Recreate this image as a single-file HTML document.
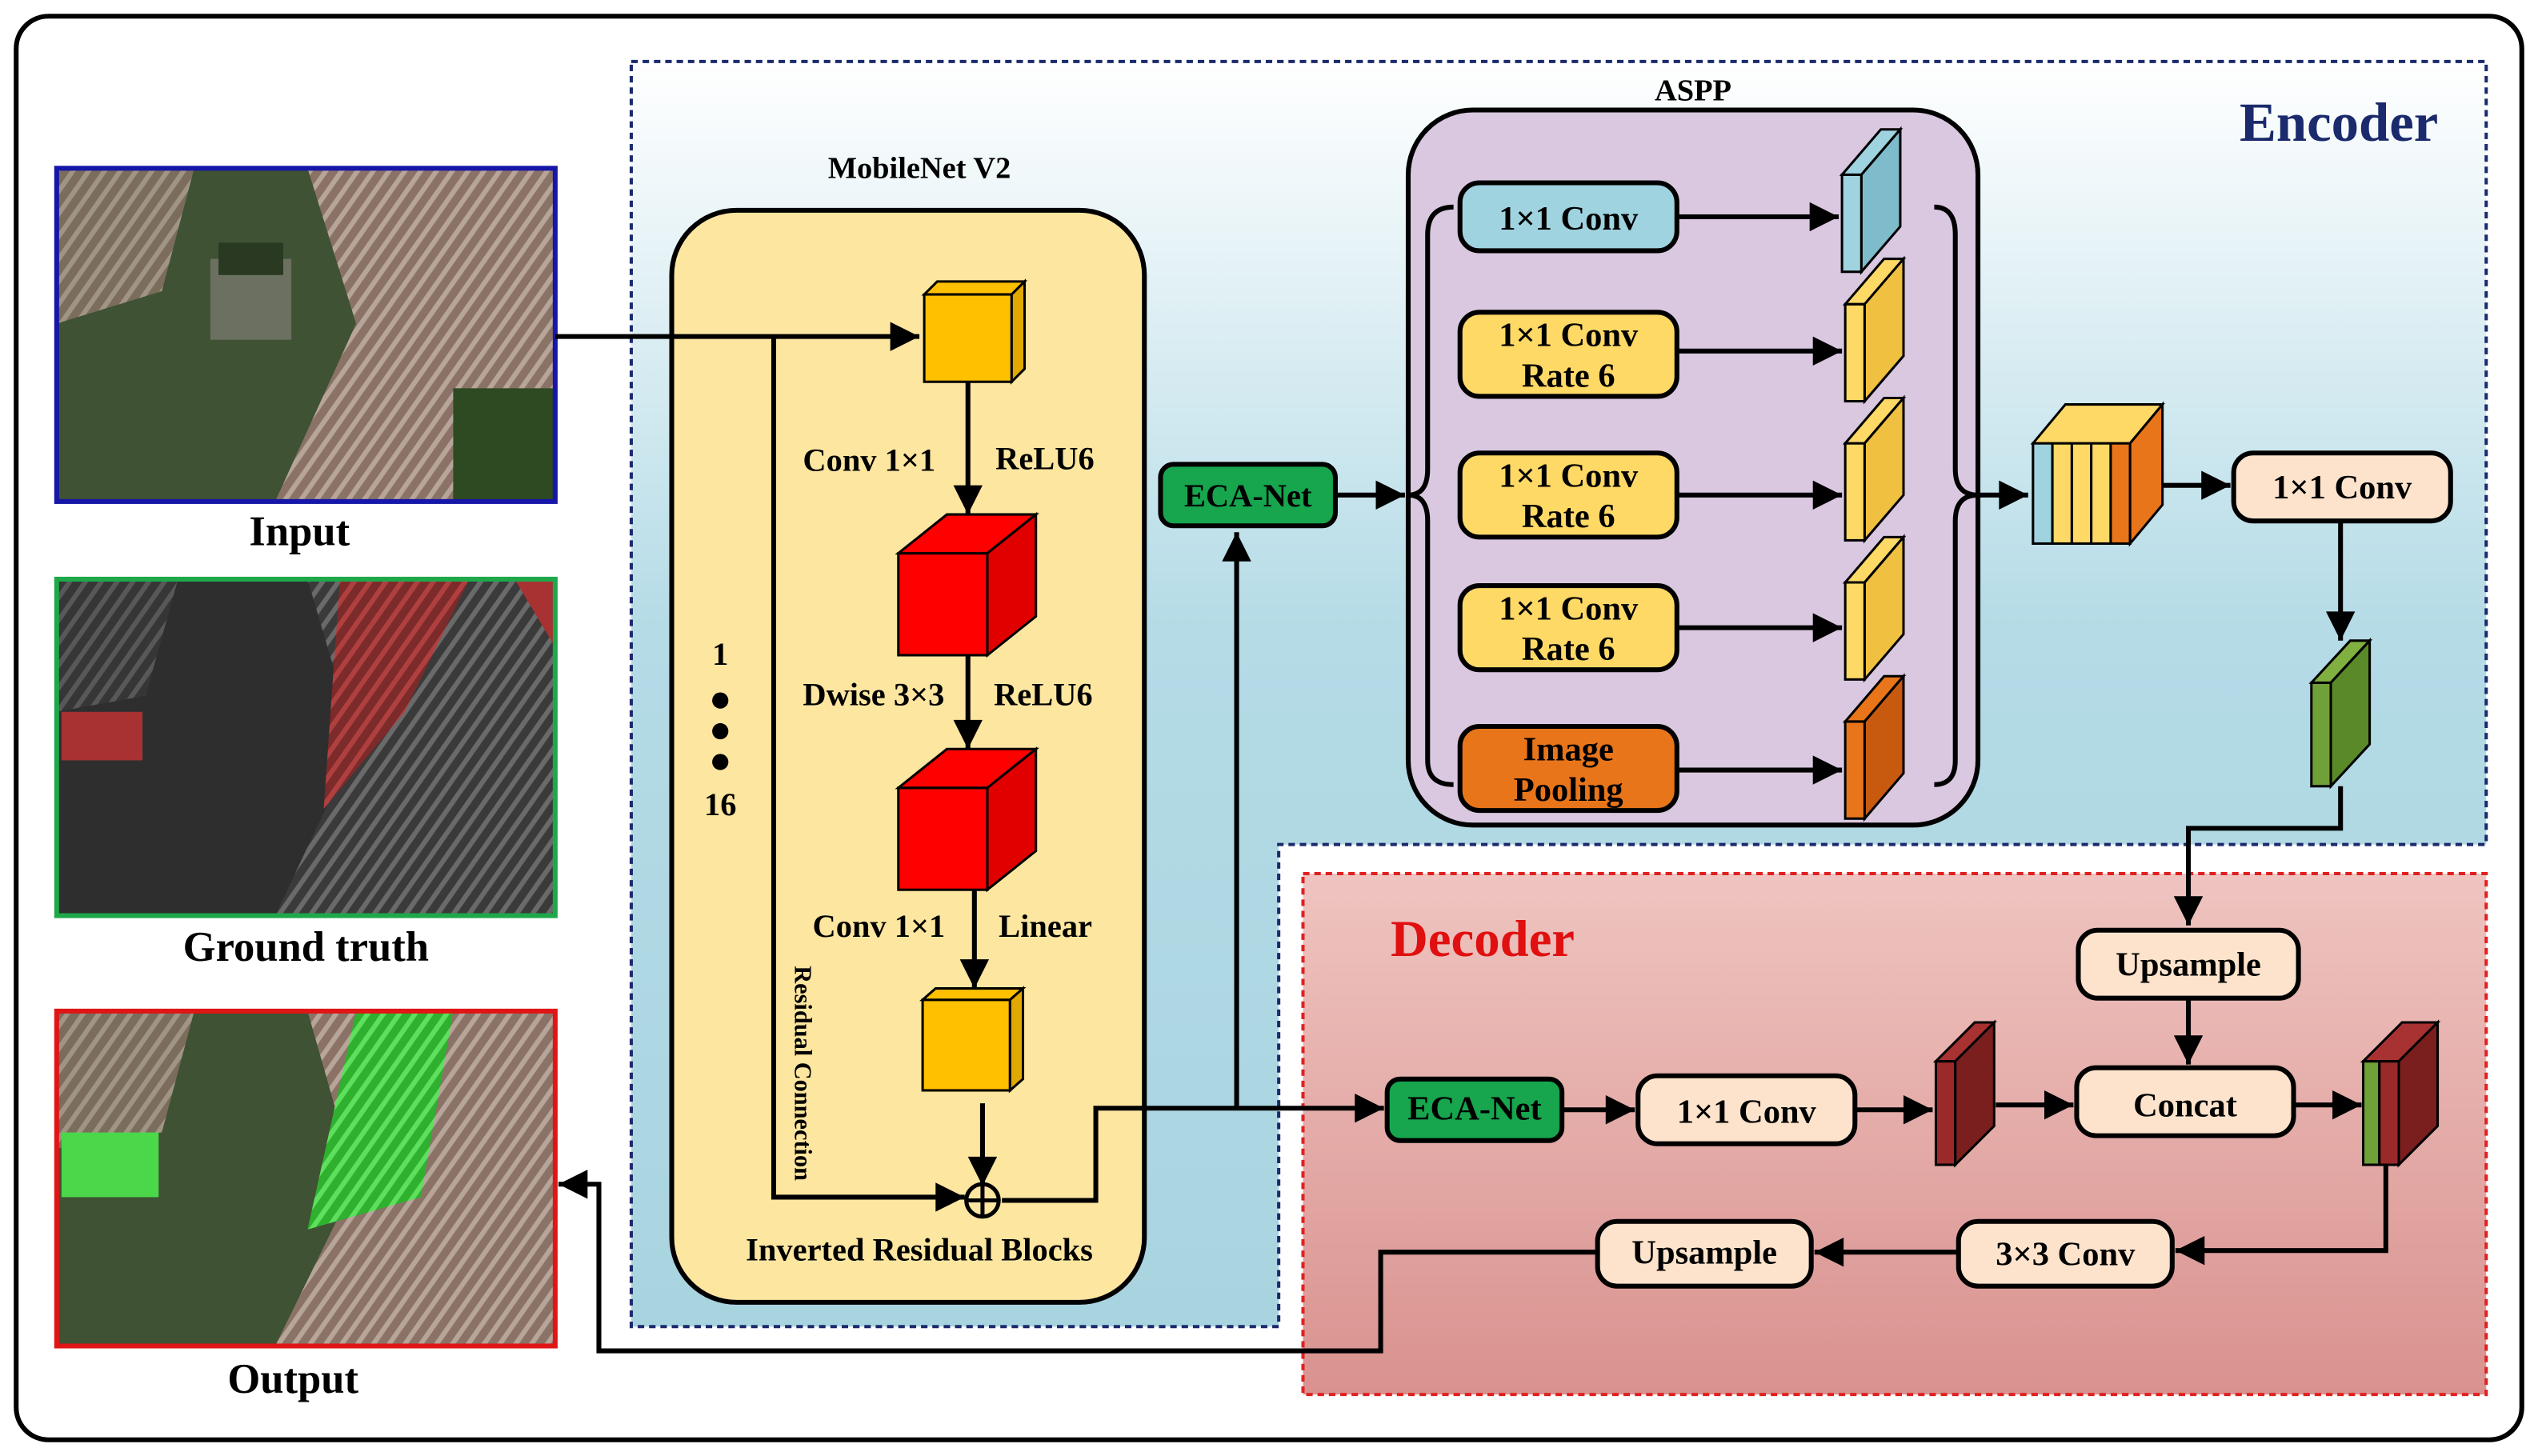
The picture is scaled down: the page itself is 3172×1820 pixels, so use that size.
<!DOCTYPE html>
<html><head><meta charset="utf-8"><style>
html,body{margin:0;padding:0;background:#fff}
svg{display:block}
text{font-family:"Liberation Serif",serif;font-weight:bold}
</style></head><body>
<svg width="3172" height="1820" viewBox="0 0 1568 900" preserveAspectRatio="none" xmlns="http://www.w3.org/2000/svg">
<defs>
<linearGradient id="enc" x1="0" y1="0" x2="0" y2="1"><stop offset="0" stop-color="#ffffff"/><stop offset="0.45" stop-color="#b4dbe6"/><stop offset="1" stop-color="#a8d4e0"/></linearGradient>
<linearGradient id="dec" x1="0" y1="0" x2="0" y2="1"><stop offset="0" stop-color="#efc4c0"/><stop offset="1" stop-color="#d9928f"/></linearGradient>
<pattern id="str" width="8" height="8" patternUnits="userSpaceOnUse" patternTransform="rotate(35)"><rect width="8" height="8" fill="#8a7366"/><rect width="3" height="8" fill="#b8a59a"/></pattern>
<pattern id="strg" width="8" height="8" patternUnits="userSpaceOnUse" patternTransform="rotate(35)"><rect width="8" height="8" fill="#3a3a3a"/><rect width="3" height="8" fill="#6a6a6a"/></pattern>
<pattern id="strr" width="8" height="8" patternUnits="userSpaceOnUse" patternTransform="rotate(35)"><rect width="8" height="8" fill="#7d2a2a"/><rect width="3" height="8" fill="#b04040"/></pattern>
<pattern id="strgr" width="8" height="8" patternUnits="userSpaceOnUse" patternTransform="rotate(35)"><rect width="8" height="8" fill="#2fb02f"/><rect width="3" height="8" fill="#5ee05e"/></pattern>
<marker id="ab" viewBox="0 0 10 10" markerWidth="22" markerHeight="18" refX="10" refY="5" orient="auto" markerUnits="userSpaceOnUse"><path d="M0,0 L10,5 L0,10 Z" fill="#000"/></marker>
</defs>
<rect x="10" y="10" width="1548" height="880" rx="20" fill="#fff" stroke="#000" stroke-width="3"/>
<polygon points="390,38 1536,38 1536,522 790,522 790,820 390,820" fill="url(#enc)" stroke="#1a2a6c" stroke-width="2" stroke-dasharray="4,3"/>
<rect x="805" y="540" width="731" height="322" fill="url(#dec)" stroke="#e02020" stroke-width="2" stroke-dasharray="4,3"/>
<text x="1445" y="87" font-size="34" fill="#1a2a6c" text-anchor="middle">Encoder</text>
<text x="916" y="591" font-size="32" fill="#e01010" text-anchor="middle">Decoder</text>
<!-- images -->
<rect x="35" y="104" width="308" height="206" fill="#3f5233"/>
<polygon points="190,104 343,104 343,310 170,310 220,200" fill="url(#str)"/>
<polygon points="35,104 120,104 100,180 35,200" fill="url(#str)" opacity="0.8"/>
<rect x="130" y="160" width="50" height="50" fill="#6b7060"/>
<rect x="135" y="150" width="40" height="20" fill="#2a3a22"/>
<rect x="280" y="240" width="63" height="70" fill="#2d4a22"/>
<rect x="35" y="104" width="308" height="206" fill="none" stroke="#1616a8" stroke-width="3"/>
<rect x="35" y="358" width="308" height="208" fill="#2e2e2e"/>
<polygon points="190,358 343,358 343,566 170,566 220,460" fill="url(#strg)"/>
<polygon points="35,358 110,358 90,430 35,440" fill="url(#strg)" opacity="0.7"/>
<polygon points="210,358 290,358 250,440 200,500" fill="url(#strr)"/>
<polygon points="318,358 343,358 343,400" fill="#a83232"/>
<rect x="38" y="440" width="50" height="30" fill="#a83232"/>
<rect x="35" y="358" width="308" height="208" fill="none" stroke="#1ea84a" stroke-width="3"/>
<rect x="35" y="625" width="308" height="207" fill="#3f5233"/>
<polygon points="190,625 343,625 343,832 170,832 220,730" fill="url(#str)"/>
<polygon points="35,625 120,625 100,700 35,710" fill="url(#str)" opacity="0.8"/>
<polygon points="220,625 280,625 260,740 190,760" fill="url(#strgr)"/>
<rect x="38" y="700" width="60" height="40" fill="#4ad84a"/>
<rect x="35" y="625" width="308" height="207" fill="none" stroke="#e01616" stroke-width="3"/>
<text x="185" y="337" font-size="26" text-anchor="middle">Input</text>
<text x="189" y="594" font-size="26" text-anchor="middle">Ground truth</text>
<text x="181" y="861" font-size="26" text-anchor="middle">Output</text>
<text x="568" y="110" font-size="19" text-anchor="middle">MobileNet V2</text>
<rect x="415" y="130" width="292" height="675" rx="40" fill="#fde6a0" stroke="#000" stroke-width="3"/>
<g stroke="#000" stroke-width="1.5">
<rect x="571" y="182" width="54" height="54" fill="#ffc000"/>
<polygon points="571,182 579,174 633,174 625,182" fill="#ffc000"/>
<polygon points="625,182 633,174 633,228 625,236" fill="#e0a800"/>
<rect x="555" y="342" width="55" height="63" fill="#ff0000"/>
<polygon points="555,342 585,318 640,318 610,342" fill="#ff0000"/>
<polygon points="610,342 640,318 640,381 610,405" fill="#e00000"/>
<rect x="555" y="487" width="55" height="63" fill="#ff0000"/>
<polygon points="555,487 585,463 640,463 610,487" fill="#ff0000"/>
<polygon points="610,487 640,463 640,526 610,550" fill="#e00000"/>
<rect x="570" y="618" width="54" height="56" fill="#ffc000"/>
<polygon points="570,618 578,611 632,611 624,618" fill="#ffc000"/>
<polygon points="624,618 632,611 632,667 624,674" fill="#e0a800"/>
</g>
<g font-size="20">
<text x="496" y="291">Conv 1×1</text><text x="615" y="290">ReLU6</text>
<text x="496" y="436">Dwise 3×3</text><text x="614" y="436">ReLU6</text>
<text x="502" y="579">Conv 1×1</text><text x="617" y="579">Linear</text>
<text x="568" y="779" text-anchor="middle">Inverted Residual Blocks</text>
<text x="445" y="411" text-anchor="middle">1</text>
<text x="445" y="504" text-anchor="middle">16</text>
</g>
<circle cx="445" cy="433" r="5"/><circle cx="445" cy="452" r="5"/><circle cx="445" cy="471" r="5"/>
<text x="0" y="0" font-size="15" transform="translate(491,597) rotate(90)">Residual Connection</text>
<g fill="none" stroke="#000" stroke-width="3">
<path d="M343,208 H568" marker-end="url(#ab)"/>
<path d="M478,208 V740 H596" marker-end="url(#ab)"/>
<path d="M598,236 V318" marker-end="url(#ab)"/>
<path d="M598,405 V463" marker-end="url(#ab)"/>
<path d="M602,550 V611" marker-end="url(#ab)"/>
<path d="M607,682 V733" marker-end="url(#ab)"/>
<path d="M619,742 H677 V685 H855" marker-end="url(#ab)"/>
<path d="M764,685 V329" marker-end="url(#ab)"/>
<path d="M825,306 H868" marker-end="url(#ab)"/>
</g>
<circle cx="607" cy="742" r="10" fill="#fde6a0" stroke="#000" stroke-width="2.5"/>
<path d="M597,742 H617 M607,732 V752" stroke="#000" stroke-width="2.5"/>
<rect x="717" y="287" width="108" height="38" rx="8" fill="#17a54e" stroke="#000" stroke-width="3"/>
<text x="771" y="313" font-size="20" text-anchor="middle">ECA-Net</text>
<text x="1046" y="62" font-size="19" text-anchor="middle">ASPP</text>
<rect x="870" y="68" width="352" height="442" rx="40" fill="#d9c8e0" stroke="#000" stroke-width="3"/>
<path d="M898,128 Q882,128 882,145 V290 Q882,306 870,306 Q882,306 882,322 V470 Q882,485 898,485" fill="none" stroke="#000" stroke-width="3"/>
<path d="M1195,128 Q1208,128 1208,145 V290 Q1208,306 1222,306 Q1208,306 1208,322 V470 Q1208,485 1195,485" fill="none" stroke="#000" stroke-width="3"/>
<g stroke="#000" stroke-width="3">
<rect x="902" y="113" width="134" height="42" rx="12" fill="#9fd3df"/>
<rect x="902" y="193" width="134" height="52" rx="12" fill="#ffd966"/>
<rect x="902" y="280" width="134" height="52" rx="12" fill="#ffd966"/>
<rect x="902" y="362" width="134" height="52" rx="12" fill="#ffd966"/>
<rect x="902" y="449" width="134" height="52" rx="12" fill="#e8751a"/>
</g>
<g font-size="21" text-anchor="middle">
<text x="969" y="142">1×1 Conv</text>
<text x="969" y="214">1×1 Conv</text><text x="969" y="239">Rate 6</text>
<text x="969" y="301">1×1 Conv</text><text x="969" y="326">Rate 6</text>
<text x="969" y="383">1×1 Conv</text><text x="969" y="408">Rate 6</text>
<text x="969" y="470">Image</text><text x="969" y="495">Pooling</text>
</g>
<g fill="none" stroke="#000" stroke-width="3">
<path d="M1036,134 H1136" marker-end="url(#ab)"/>
<path d="M1036,217 H1138" marker-end="url(#ab)"/>
<path d="M1036,306 H1138" marker-end="url(#ab)"/>
<path d="M1036,388 H1138" marker-end="url(#ab)"/>
<path d="M1036,476 H1138" marker-end="url(#ab)"/>
<path d="M1222,306 H1253" marker-end="url(#ab)"/>
<path d="M1336,300 H1378" marker-end="url(#ab)"/>
<path d="M1446,322 V396" marker-end="url(#ab)"/>
<path d="M1446,486 V512 H1352 V572" marker-end="url(#ab)"/>
<path d="M1352,617 V658" marker-end="url(#ab)"/>
<path d="M965,686 H1010" marker-end="url(#ab)"/>
<path d="M1146,686 H1194" marker-end="url(#ab)"/>
<path d="M1233,683 H1281" marker-end="url(#ab)"/>
<path d="M1417,683 H1459" marker-end="url(#ab)"/>
<path d="M1474,720 V773 H1344" marker-end="url(#ab)"/>
<path d="M1210,774 H1121" marker-end="url(#ab)"/>
<path d="M987,774 H853 V835 H370 V732 H345" marker-end="url(#ab)"/>
</g>
<g stroke="#000" stroke-width="1.5">
<rect x="1138" y="108" width="12" height="60" fill="#9fd3df"/><polygon points="1138,108 1162,80 1174,80 1150,108" fill="#9fd3df"/><polygon points="1150,108 1174,80 1174,140 1150,168" fill="#7fbccb"/>
<rect x="1140" y="188" width="12" height="60" fill="#ffd966"/><polygon points="1140,188 1164,160 1176,160 1152,188" fill="#ffd966"/><polygon points="1152,188 1176,160 1176,220 1152,248" fill="#f0c040"/>
<rect x="1140" y="274" width="12" height="60" fill="#ffd966"/><polygon points="1140,274 1164,246 1176,246 1152,274" fill="#ffd966"/><polygon points="1152,274 1176,246 1176,306 1152,334" fill="#f0c040"/>
<rect x="1140" y="360" width="12" height="60" fill="#ffd966"/><polygon points="1140,360 1164,332 1176,332 1152,360" fill="#ffd966"/><polygon points="1152,360 1176,332 1176,392 1152,420" fill="#f0c040"/>
<rect x="1140" y="446" width="12" height="60" fill="#e8751a"/><polygon points="1140,446 1164,418 1176,418 1152,446" fill="#e8751a"/><polygon points="1152,446 1176,418 1176,478 1152,506" fill="#c85a10"/>
<rect x="1256" y="274" width="12" height="62" fill="#9fd3df"/>
<rect x="1268" y="274" width="12" height="62" fill="#ffd966"/>
<rect x="1280" y="274" width="12" height="62" fill="#ffd966"/>
<rect x="1292" y="274" width="12" height="62" fill="#ffd966"/>
<rect x="1304" y="274" width="12" height="62" fill="#e8751a"/>
<polygon points="1256,274 1276,250 1336,250 1316,274" fill="#ffd966"/>
<polygon points="1316,274 1336,250 1336,312 1316,336" fill="#e8751a"/>
<rect x="1428" y="422" width="12" height="64" fill="#70a038"/><polygon points="1428,422 1452,396 1464,396 1440,422" fill="#80b040"/><polygon points="1440,422 1464,396 1464,460 1440,486" fill="#5a8a28"/>
<rect x="1196" y="656" width="12" height="64" fill="#9a2a2a"/><polygon points="1196,656 1220,632 1232,632 1208,656" fill="#a83232"/><polygon points="1208,656 1232,632 1232,696 1208,720" fill="#7a1e1e"/>
<rect x="1460" y="656" width="10" height="64" fill="#70a038"/><rect x="1470" y="656" width="12" height="64" fill="#9a2a2a"/>
<polygon points="1460,656 1484,632 1506,632 1482,656" fill="#a83232"/><polygon points="1482,656 1506,632 1506,696 1482,720" fill="#7a1e1e"/>
</g>
<g stroke="#000" stroke-width="3">
<rect x="1380" y="280" width="134" height="42" rx="12" fill="#fde3cc"/>
<rect x="1284" y="575" width="136" height="42" rx="12" fill="#fde3cc"/>
<rect x="1283" y="660" width="134" height="42" rx="12" fill="#fde3cc"/>
<rect x="857" y="667" width="108" height="38" rx="8" fill="#17a54e"/>
<rect x="1012" y="665" width="134" height="42" rx="12" fill="#fde3cc"/>
<rect x="1210" y="755" width="132" height="40" rx="12" fill="#fde3cc"/>
<rect x="987" y="755" width="132" height="40" rx="12" fill="#fde3cc"/>
</g>
<g font-size="21" text-anchor="middle">
<text x="1447" y="308">1×1 Conv</text>
<text x="1352" y="603">Upsample</text>
<text x="1350" y="690">Concat</text>
<text x="911" y="692">ECA-Net</text>
<text x="1079" y="694">1×1 Conv</text>
<text x="1276" y="782">3×3 Conv</text>
<text x="1053" y="781">Upsample</text>
</g>
</svg>
</body></html>
